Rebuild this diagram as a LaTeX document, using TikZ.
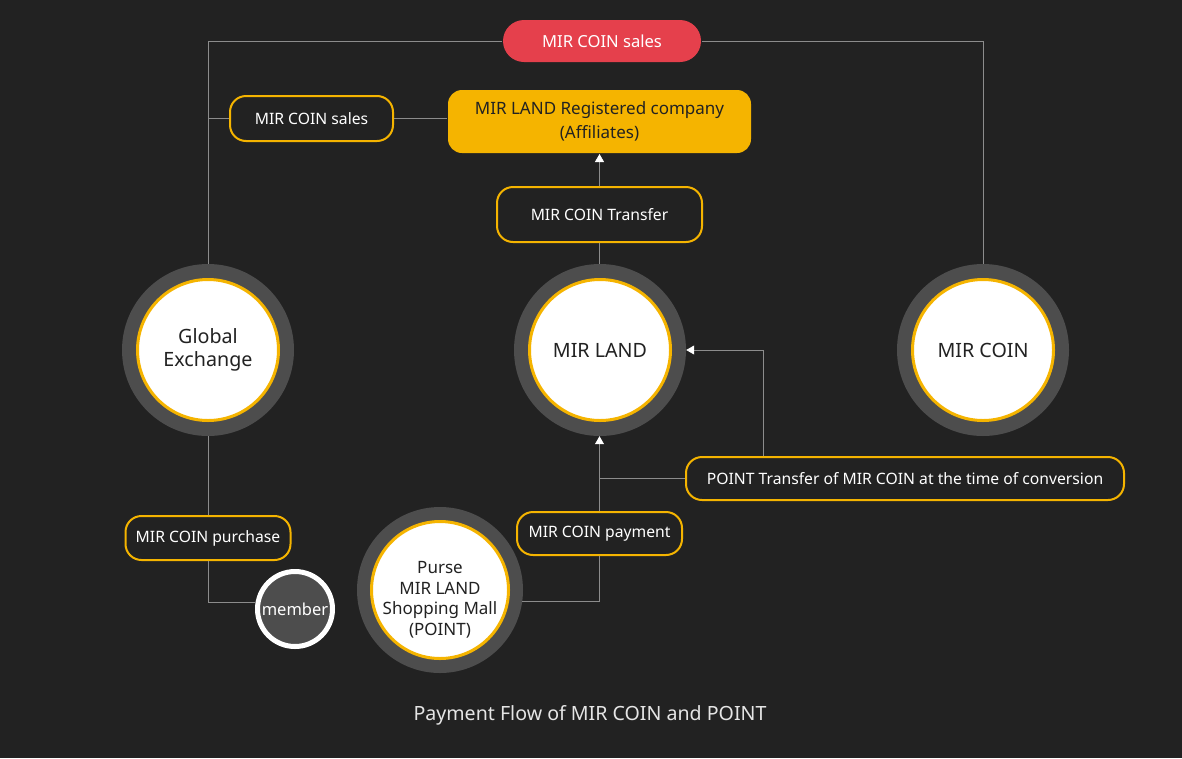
\documentclass[tikz,border=0pt]{standalone}
\usepackage{fontspec}
\setmainfont{Noto Sans}
\usetikzlibrary{arrows.meta,positioning}

\definecolor{bg}{HTML}{222222}
\definecolor{ringgray}{HTML}{4D4D4D}
\definecolor{gold}{HTML}{F5B400}
\definecolor{salesred}{HTML}{E5404C}
\definecolor{wiregray}{HTML}{8C8C8C}

\tikzset{
  ringnode/.style={circle,fill=ringgray,minimum size=172pt,inner sep=0pt},
  corenode/.style={circle,fill=white,draw=gold,line width=3pt,minimum size=141pt,
    inner sep=0pt,align=center,text=bg,font=\fontsize{19.7}{23}\selectfont},
  tag/.style={rectangle,rounded corners=16pt,draw=gold,line width=2pt,fill=bg,
    text=white,minimum height=44pt,inner sep=0pt,font=\fontsize{15.7}{18}\selectfont},
  wire/.style={draw=wiregray,line width=0.8pt},
  wirearrow/.style={-{Triangle[color=white,width=9pt,length=8pt]}},
}

\begin{document}
\begin{tikzpicture}[x=1pt,y=-1pt]
  % Fondo
  \fill[bg] (0,0) rectangle (1182,758);

  % Circulos grandes
  \node[ringnode] (ge-ring) at (208,350) {};
  \node[corenode] (ge) at (208,350) {Global\\Exchange};
  \node[ringnode] (land-ring) at (600,350) {};
  \node[corenode] (land) at (600,350) {MIR LAND};
  \node[ringnode] (coin-ring) at (983,350) {};
  \node[corenode] (coin) at (983,350) {MIR COIN};

  % Monedero y miembro
  \node[ringnode,minimum size=166pt] (purse-ring) at (440,590) {};
  \node[corenode,minimum size=137pt] (purse) at (440,590) {};
  \node[text=bg,align=center,font=\fontsize{17}{20.5}\selectfont] (purse-text)
    at ([yshift=-10pt]purse.center) {Purse\\MIR LAND\\Shopping Mall\\(POINT)};
  \node[circle,fill=ringgray,draw=white,line width=5pt,minimum size=75pt,inner sep=0pt,
    text=white,font=\fontsize{16.5}{18}\selectfont\bfseries] (member) at (295,609) {member};

  % Etiquetas
  \node[tag,draw=none,fill=salesred,rounded corners=21pt,minimum width=198pt,minimum height=42pt,
    font=\fontsize{16.6}{18}\selectfont] (sales) at (602,41) {MIR COIN sales};
  \node[tag,minimum width=163pt,minimum height=45pt] (salesb) at (311.5,118.5) {MIR COIN sales};
  \node[tag,draw=none,fill=gold,text=bg,rounded corners=14pt,minimum width=303pt,
    minimum height=63pt,align=center,font=\fontsize{17}{23.5}\selectfont]
    (firm) at (599.5,121.5) {MIR LAND Registered company\\(Affiliates)};
  \node[tag,minimum width=205pt,minimum height=55pt] (transfer) at (599.5,214.5) {MIR COIN Transfer};
  \node[tag,minimum width=165pt] (purchase) at (208,538) {MIR COIN purchase};
  \node[tag,minimum width=165pt,minimum height=43pt] (payment) at (599.5,533.5) {MIR COIN payment};
  \node[tag,minimum width=438pt,minimum height=43pt] (conv) at (905,478.5)
    {POINT Transfer of MIR COIN at the time of conversion};

  % Conexiones
  \draw[wire] (ge-ring.north) |- (sales.west);
  \draw[wire] (sales.east) -| (coin-ring.north);
  \draw[wire] (salesb.west) -- (salesb.west -| ge-ring.north);
  \draw[wire] (salesb.east) -- (salesb.east -| firm.west);
  \draw[wire] (transfer.south) -- (transfer.south |- land-ring.north);
  \draw[wire,wirearrow] (transfer.north) -- (firm.south);
  \draw[wire] (ge-ring.south) -- (purchase.north);
  \draw[wire] (purchase.south) |- (member.170);
  \draw[wire] (purse-ring.-8) -| (payment.south);
  \draw[wire,wirearrow] (payment.north) -- (payment.north |- land-ring.south);
  \draw[wire] (conv.west) -- (conv.west -| payment.north);
  \draw[wire,wirearrow] ([xshift=-142pt]conv.north) |- (land-ring.east);

  % Titulo
  \node[text=white!90!black,font=\fontsize{19.6}{23}\selectfont] (title) at (590,715)
    {Payment Flow of MIR COIN and POINT};
\end{tikzpicture}
\end{document}
